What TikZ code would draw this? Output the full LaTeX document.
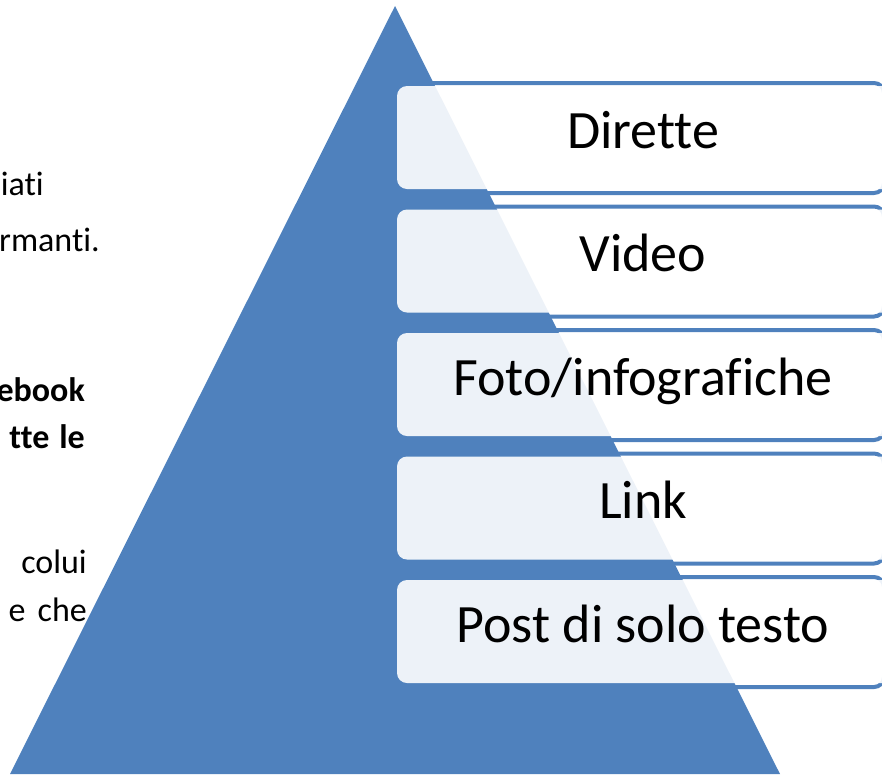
\documentclass[tikz,border=0pt]{standalone}
\usepackage{fontspec}
\setmainfont{Carlito}[Ligatures={NoCommon}, RawFeature={-liga;-clig;-calt;-dlig}]
\definecolor{acc}{HTML}{4F81BD}
\tikzset{
  boxfill/.style={fill=white, fill opacity=0.9, draw=none, rounded corners=10pt},
  boxline/.style={draw=acc, line width=4pt, rounded corners=10pt},
  boxtext/.style={anchor=base, font=\fontsize{54}{60}\selectfont, text=black, inner sep=0pt},
  lefttext/.style={anchor=base east, font=\fontsize{34}{40}\selectfont, inner sep=0pt},
  leftbold/.style={anchor=base east, font=\fontsize{34}{40}\selectfont\bfseries, inner sep=0pt}
}
\begin{document}
\begin{tikzpicture}[x=1pt,y=-1pt]
\useasboundingbox (0,0) rectangle (882,774);
% left text
\node[lefttext] (t1) at (44,195) {iati};
\node[lefttext] (t2) at (100,251) {rmanti.};
\node[leftbold] (t3) at (85,401) {ebook};
\node[leftbold] (t4) at (85,448) {tte\hspace{10pt}le};
\node[lefttext] (t5) at (87,573) {colui};
\node[lefttext] (t6) at (87,621) {e\hspace{12pt}che};
% triangle
\fill[acc] (395,6) -- (780,774) -- (10,774) -- cycle;
% boxes
\foreach \i/\txt in {0/Dirette,1/Video,2/Foto\slash infografiche,3/Link,4/Post di solo testo}{
  \pgfmathsetmacro{\top}{86+123.5*\i}
  \draw[boxline] (420,\top-3) rectangle (884,\top+107);
  \fill[boxfill] (397,\top) rectangle (893,\top+103);
  \node[boxtext] (b\i) at (643,\top+62) {\txt};
}
\end{tikzpicture}
\end{document}
